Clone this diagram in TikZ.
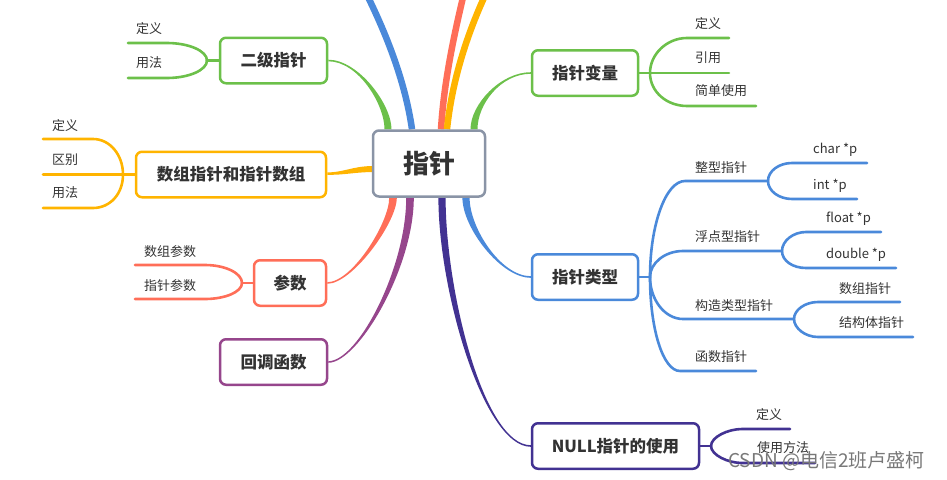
\documentclass[tikz,border=0pt]{standalone}
\usepackage{fontspec}
\setmainfont{Noto Sans CJK SC}
\usetikzlibrary{calc,backgrounds}
\definecolor{cgreen}{RGB}{108,192,74}
\definecolor{corange}{RGB}{255,180,0}
\definecolor{cred}{RGB}{255,110,88}
\definecolor{cpurple}{RGB}{150,70,140}
\definecolor{cindigo}{RGB}{66,50,146}
\definecolor{cblue}{RGB}{74,137,218}
\definecolor{cgray}{RGB}{138,148,166}
\definecolor{ctext}{RGB}{51,51,51}
\definecolor{cwm}{RGB}{120,120,120}
\newcommand\taper[8]{\fill[#1] ($(#2)+(-#6,0)$) .. controls +(0,#4) and +(#5,0) .. ($(#3)+(0,#7)$) -- ($(#3)+(0,#8)$) .. controls +(#5,0) and +(0,#4) .. ($(#2)+(#6,0)$) -- cycle;}
\tikzset{
  topic/.style={draw, line width=2.5pt, rounded corners=6pt, fill=white, text=ctext,
    font=\bfseries\fontsize{16.5}{18}\selectfont, inner sep=0pt, minimum height=45.5},
  kid/.style={anchor=west, inner sep=0pt, text=ctext, font=\fontsize{13}{15}\selectfont},
  sub/.style={line width=2.6pt, line cap=round},
}
\begin{document}
\begin{tikzpicture}[x=1pt,y=-1pt]
\useasboundingbox (0,0) rectangle (947,479);
\clip (0,0) rectangle (947,479);

% center
\node[topic, draw=cgray, minimum width=112, minimum height=66,
  font=\bfseries\fontsize{26}{28}\selectfont] (c) at (429,163.5) {指针};

% main topics
\node[topic, draw=cgreen, minimum width=107] (n2) at (273.5,60.5) {二级指针};
\node[topic, draw=corange, minimum width=190] (na) at (231,174.5) {数组指针和指针数组};
\node[topic, draw=cred, minimum width=72] (np) at (290,283) {参数};
\node[topic, draw=cpurple, minimum width=107] (nh) at (273.5,362) {回调函数};
\node[topic, draw=cgreen, minimum width=106] (nv) at (585,73) {指针变量};
\node[topic, draw=cblue, minimum width=106] (nt) at (585,277) {指针类型};
\node[topic, draw=cindigo, minimum width=167] (nn) at (615.5,446) {NULL指针的使用};

\begin{scope}[on background layer]
% start points on the centre box
\coordinate (sG) at ($(c.north)+(-41,0)$);
\coordinate (sBt) at ($(c.north)+(-17,0)$);
\coordinate (sRt) at ($(c.north)+(12,0)$);
\coordinate (sOt) at ($(c.north)+(18,0)$);
\coordinate (sGr) at ($(c.north)+(45,0)$);
\coordinate (sR) at ($(c.south)+(-36,0)$);
\coordinate (sP) at ($(c.south)+(-19,0)$);
\coordinate (sI) at ($(c.south)+(13,0)$);
\coordinate (sB) at ($(c.south)+(37,0)$);
\coordinate (tB) at (362,-15);
\coordinate (tR) at (466,-15);
\coordinate (tO) at (490,-15);

% branches leaving the picture at the top
\draw[cblue, line width=6.5pt] (sBt) .. controls (405,80) and (385,30) .. (tB);
\draw[cred, line width=6.5pt] (sRt) .. controls (444,80) and (455,30) .. (tR);
\draw[corange, line width=6.5pt] (sOt) .. controls (452,80) and (468,30) .. (tO);

% tapered main branches
\taper{cgreen}{sG}{n2.east}{-25}{30}{3.5}{0.8}{-0.8}
\taper{cgreen}{sGr}{nv.west}{-25}{-30}{3.5}{-0.8}{0.8}
\taper{cred}{sR}{np.east}{25}{25}{3.8}{-0.8}{0.8}
\taper{cpurple}{sP}{nh.east}{70}{30}{3.8}{-0.8}{0.8}
\taper{cindigo}{sI}{nn.west}{93}{-47}{3.6}{0.8}{-0.8}
\taper{cblue}{sB}{nt.west}{30}{-30}{3.6}{0.8}{-0.8}
\fill[corange] ($(c.west)+(0,2.5)$) .. controls (352,166.5) and (345,172) .. ($(na.east)+(0,-2)$)
  -- ($(na.east)+(0,0.3)$) .. controls (345,175) and (352,172.5) .. ($(c.west)+(0,8.5)$) -- cycle;
\end{scope}

% ---- 二级指针 children
\coordinate (J2) at (207,60.5);
\draw[cgreen, sub] (n2.west) -- (J2);
\draw[cgreen, sub] (J2) .. controls (207,51) and (189,43) .. (167,43) -- (128,43);
\draw[cgreen, sub] (J2) .. controls (207,70) and (189,78) .. (167,78) -- (128,78);
\node[kid] (k21) at (136,29) {定义};
\node[kid] (k22) at (136,63) {用法};

% ---- 数组指针和指针数组 children
\coordinate (Ja) at (123,174.5);
\draw[corange, sub] (na.west) -- (Ja);
\draw[corange, sub] (Ja) .. controls (123,155) and (110,139) .. (93,139) -- (43,139);
\draw[corange, sub] (Ja) -- (43,174.5);
\draw[corange, sub] (Ja) .. controls (123,194) and (110,208) .. (93,208) -- (43,208);
\node[kid] (ka1) at (52,126) {定义};
\node[kid] (ka2) at (52,160) {区别};
\node[kid] (ka3) at (52,193) {用法};

% ---- 参数 children
\coordinate (Jp) at (242,283);
\draw[cred, sub] (np.west) -- (Jp);
\draw[cred, sub] (Jp) .. controls (242,273) and (225,265) .. (205,265) -- (135,265);
\draw[cred, sub] (Jp) .. controls (242,292) and (225,299) .. (205,299) -- (135,299);
\node[kid] (kp1) at (144,252) {数组参数};
\node[kid] (kp2) at (144,286) {指针参数};

% ---- 指针变量 children
\coordinate (Jv) at (650,73);
\draw[cgreen, sub] (nv.east) -- (Jv);
\draw[cgreen, sub] (Jv) .. controls (650,54) and (667,38) .. (687,38) -- (729,38);
\draw[cgreen, sub] (Jv) -- (729,73);
\draw[cgreen, sub] (Jv) .. controls (650,92) and (667,106) .. (687,106) -- (756,106);
\node[kid] (kv1) at (695,24) {定义};
\node[kid] (kv2) at (695,58) {引用};
\node[kid] (kv3) at (695,91) {简单使用};

% ---- 指针类型 children
\coordinate (Jt) at (650,277);
\draw[cblue, sub] (nt.east) -- (Jt);
\draw[cblue, sub] (Jt) .. controls (650,224) and (666,181) .. (685,181) -- (768,181);
\draw[cblue, sub] (Jt) .. controls (650,263) and (665,251) .. (683,251) -- (782,251);
\draw[cblue, sub] (Jt) .. controls (650,300) and (665,319) .. (683,319) -- (794,319);
\draw[cblue, sub] (Jt) .. controls (650,329) and (663,371) .. (680,371) -- (756,371);
\node[kid] (kt1) at (695,168) {整型指针};
\node[kid] (kt2) at (695,237) {浮点型指针};
\node[kid] (kt3) at (695,306) {构造类型指针};
\node[kid] (kt4) at (695,357) {函数指针};

\coordinate (Ji) at (768,181);
\draw[cblue, sub] (Ji) .. controls (768,171) and (779,163) .. (792,163) -- (867,163);
\draw[cblue, sub] (Ji) .. controls (768,191) and (779,199) .. (792,199) -- (857,199);
\node[kid] (ki1) at (813,150) {char *p};
\node[kid] (ki2) at (813,186) {int *p};

\coordinate (Jf) at (782,251);
\draw[cblue, sub] (Jf) .. controls (782,241) and (793,232) .. (806,232) -- (881,232);
\draw[cblue, sub] (Jf) .. controls (782,261) and (793,268) .. (806,268) -- (896,268);
\node[kid] (kf1) at (826,219) {float *p};
\node[kid] (kf2) at (826,255) {double *p};

\coordinate (Jc) at (794,319);
\draw[cblue, sub] (Jc) .. controls (794,310) and (805,302) .. (818,302) -- (900,302);
\draw[cblue, sub] (Jc) .. controls (794,328) and (805,337) .. (818,337) -- (913,337);
\node[kid] (kc1) at (839,289) {数组指针};
\node[kid] (kc2) at (839,323) {结构体指针};

% ---- NULL指针的使用 children
\coordinate (Jn) at (711,446);
\draw[cindigo, sub] (nn.east) -- (Jn);
\draw[cindigo, sub] (Jn) .. controls (711,437) and (728,429) .. (742,429) -- (790,429);
\draw[cindigo, sub] (Jn) .. controls (711,455) and (728,463) .. (742,463) -- (815,463);
\node[kid] (kn1) at (756,415) {定义};
\node[kid] (kn2) at (757,448) {使用方法};

% watermark
\node[anchor=west, inner sep=0pt, text=cwm, font=\fontsize{19}{21}\selectfont] (wm) at (728,461) {CSDN @电信2班卢盛柯};
\end{tikzpicture}
\end{document}
